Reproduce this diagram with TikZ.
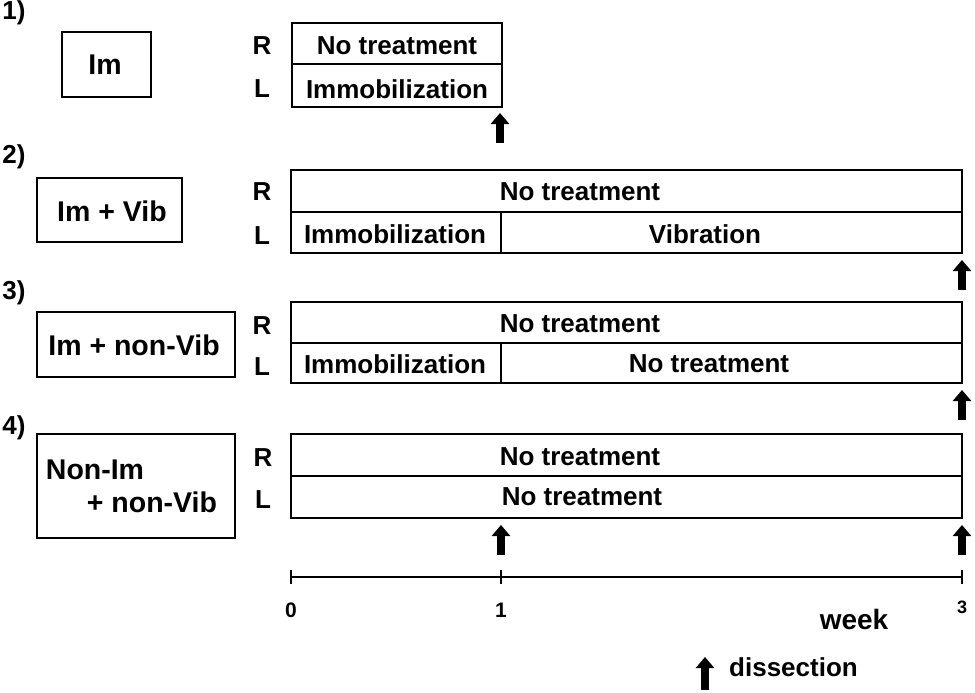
\documentclass[tikz,border=0pt]{standalone}
\usepackage{fontspec}
\setmainfont{Liberation Sans}
\usetikzlibrary{arrows.meta}

\begin{document}
\begin{tikzpicture}[x=1pt,y=-1pt,
            lab/.style={font=\fontsize{26}{30}\selectfont\bfseries, inner sep=0pt},
            big/.style={font=\fontsize{28.5}{32}\selectfont\bfseries, inner sep=0pt},
            num/.style={font=\fontsize{21}{24}\selectfont\bfseries, inner sep=0pt},
            grp/.style={draw, line width=1.5pt, inner sep=0pt, outer sep=0pt},
            cell/.style={draw, line width=1.5pt, inner sep=0pt, outer sep=0pt, anchor=north west},
            dis/.style={line width=8pt, -{Triangle[length=11pt,width=18pt]}}]

        \useasboundingbox (0,0) rectangle (975,693);

        % 1) Im
        \node[lab] (n1) at (14,13) {1)};
        \node[grp, minimum width=89pt, minimum height=65pt] (g1) at (106.5,64.5) {};
        \node[big] (g1t) at (105,65) {Im};
        \node[lab] (r1l) at (262,46) {R};
        \node[lab] (l1l) at (262,89) {L};
        \node[cell, minimum width=210pt, minimum height=41pt] (r1) at (292,23) {};
        \node[cell, minimum width=210pt, minimum height=43pt] (l1) at (r1.south west) {};
        \node[lab] (r1t) at (397,46) {No treatment};
        \node[lab] (l1t) at (397,89) {Immobilization};

        % 2) Im + Vib
        \node[lab] (n2) at (14,157) {2)};
        \node[grp, minimum width=145pt, minimum height=64pt] (g2) at (109.5,210) {};
        \node[big] (g2t) at (112,211) {Im + Vib};
        \node[lab] (r2l) at (262,192) {R};
        \node[lab] (l2l) at (262,236) {L};
        \node[cell, minimum width=671pt, minimum height=42pt] (r2) at (291,170) {};
        \node[cell, minimum width=210pt, minimum height=41pt] (l2a) at (r2.south west) {};
        \node[cell, minimum width=461pt, minimum height=41pt] (l2b) at (l2a.north east) {};
        \node[lab] (r2t) at (580,192) {No treatment};
        \node[lab] (l2at) at (395,234) {Immobilization};
        \node[lab] (l2bt) at (705,234) {Vibration};

        % 3) Im + non-Vib
        \node[lab] (n3) at (14,293) {3)};
        \node[grp, minimum width=198pt, minimum height=65pt] (g3) at (136,344.5) {};
        \node[big] (g3t) at (134,345) {Im + non-Vib};
        \node[lab] (r3l) at (262,326) {R};
        \node[lab] (l3l) at (262,367) {L};
        \node[cell, minimum width=671pt, minimum height=41pt] (r3) at (291,302) {};
        \node[cell, minimum width=210pt, minimum height=40pt] (l3a) at (r3.south west) {};
        \node[cell, minimum width=461pt, minimum height=40pt] (l3b) at (l3a.north east) {};
        \node[lab] (r3t) at (580,324) {No treatment};
        \node[lab] (l3at) at (395,364) {Immobilization};
        \node[lab] (l3bt) at (709,364) {No treatment};

        % 4) Non-Im + non-Vib
        \node[lab] (n4) at (14,428) {4)};
        \node[grp, minimum width=198pt, minimum height=104pt] (g4) at (136,486) {};
        \node[big] (g4a) at (95,470) {Non-Im};
        \node[big] (g4b) at (152,502) {+ non-Vib};
        \node[lab] (r4l) at (263,458) {R};
        \node[lab] (l4l) at (263,500) {L};
        \node[cell, minimum width=671pt, minimum height=42pt] (r4) at (291,434) {};
        \node[cell, minimum width=671pt, minimum height=42pt] (l4) at (r4.south west) {};
        \node[lab] (r4t) at (580,457) {No treatment};
        \node[lab] (l4t) at (582,497) {No treatment};

        % dissection arrows
        \coordinate (a1s) at (500,143); \coordinate (a1e) at (500,113);
        \coordinate (a2s) at (962,290); \coordinate (a2e) at (962,260);
        \coordinate (a3s) at (962,420); \coordinate (a3e) at (962,390);
        \coordinate (a4s) at (501,555); \coordinate (a4e) at (501,525);
        \coordinate (a5s) at (962,555); \coordinate (a5e) at (962,525);
        \foreach \s/\e in {a1s/a1e,a2s/a2e,a3s/a3e,a4s/a4e,a5s/a5e}
            \draw[dis] (\s) -- (\e);

        % time axis
        \coordinate (w0) at (291,577);
        \coordinate (w1) at (501,577);
        \coordinate (w3) at (962,577);
        \draw[line width=2pt] (w0) -- (w3);
        \foreach \p in {w0,w1,w3}
            \draw[line width=1.5pt] ([yshift=-7pt]\p) -- ([yshift=7pt]\p);
        \node[num] (t0) at (291,610) {0};
        \node[num] (t1) at (501,610) {1};
        \node[num, font=\fontsize{18}{20}\selectfont\bfseries] (t3) at (962,607) {3};
        \node[big, font=\fontsize{28}{32}\selectfont\bfseries] (wk) at (854,619) {week};

        % legend
        \coordinate (k1) at (705,690); \coordinate (k2) at (705,657);
        \draw[dis] (k1) -- (k2);
        \node[lab, anchor=west] (kt) at (729,667) {dissection};

    \end{tikzpicture}
\end{document}
